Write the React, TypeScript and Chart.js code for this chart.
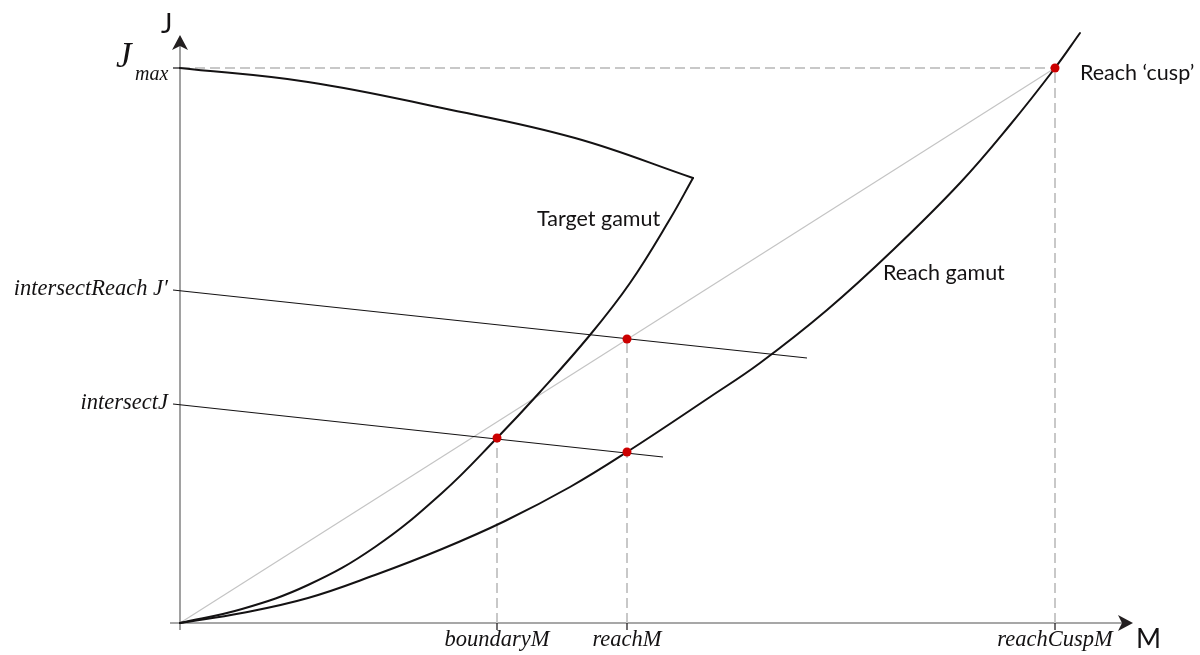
import React, { useEffect, useRef } from "react";
import { Chart, registerables } from "chart.js";

Chart.register(...registerables);

// Target gamut: upper arc from J max out to the corner, lower curve from the origin up to the corner
const targetUpperM = [0, 128, 262, 395, 513];
const targetUpperJ = [555, 541, 515, 485, 445];
const targetLowerM = [0, 62, 128, 195, 262, 317, 360, 410, 450, 490, 513];
const targetLowerJ = [0, 14, 38, 76, 130, 185, 231, 288, 340, 404, 445];

// Reach gamut boundary
const reachM = [0, 62, 128, 195, 262, 325, 390, 447, 530, 580, 647, 713, 780, 830, 875, 900];
const reachJ = [0, 10, 25, 48, 74, 102, 136, 171, 226, 260, 313, 373, 440, 498, 555, 590];

// Projection lines (start just left of the J axis so they form the tick marks)
const projUpperM = [-7, 627];
const projUpperJ = [333, 265];
const projLowerM = [-7, 483];
const projLowerJ = [219, 166];

// Key values
const jMax = 555;
const cuspM = 875;
const boundaryMVal = 317;
const boundaryJVal = 185;
const reachMVal = 447;
const reachLowJ = 171;
const reachHighJ = 284;

// Tick labels
const xTickValues = [boundaryMVal, reachMVal, cuspM];
const xTickLabels = ["boundaryM", "reachM", "reachCuspM"];
const yTickValues = [projUpperJ[0], projLowerJ[0]];
const yTickLabels = ["intersectReach J\u2032", "intersectJ"];

// Axis extents
const axisStartM = -10;
const axisEndM = 953;
const axisStartJ = -7;
const axisEndJ = 588;
const tickLen = 7;

const zip = (xs: number[], ys: number[]) => xs.map((v, i) => ({ x: v, y: ys[i] }));

const INK = "#141213";
const AXIS = "#8a8a8a";
const GUIDE = "#c8c8c8";
const DIAG = "#c4c4c4";
const RED = "#cc0000";

const annotate = {
  id: "annotate",
  afterDatasetsDraw(chart: any) {
    const { ctx, scales } = chart;
    const px = (v: number) => scales.x.getPixelForValue(v);
    const py = (v: number) => scales.y.getPixelForValue(v);
    ctx.save();
    ctx.fillStyle = "#231f20";

    // arrow heads
    const ox = px(0);
    const oy = py(0);
    const ty = py(axisEndJ);
    ctx.beginPath();
    ctx.moveTo(ox, ty);
    ctx.lineTo(ox + 8, ty + 15);
    ctx.lineTo(ox, ty + 11);
    ctx.lineTo(ox - 8, ty + 15);
    ctx.closePath();
    ctx.fill();
    const tx = px(axisEndM);
    ctx.beginPath();
    ctx.moveTo(tx, oy);
    ctx.lineTo(tx - 15, oy - 8);
    ctx.lineTo(tx - 11, oy);
    ctx.lineTo(tx - 15, oy + 8);
    ctx.closePath();
    ctx.fill();

    // axis names
    ctx.fillStyle = INK;
    ctx.font = "27px Lato";
    ctx.textAlign = "left";
    ctx.textBaseline = "alphabetic";
    ctx.fillText("J", ox - 19, ty - 2);
    ctx.fillText("M", tx + 3, oy + 25);

    // J max label
    ctx.font = "italic 35px 'Liberation Serif'";
    ctx.fillText("J", ox - 64, py(jMax) - 1);
    ctx.font = "italic 20px 'Liberation Serif'";
    ctx.fillText("max", ox - 45, py(jMax) + 12);

    // J tick labels
    ctx.font = "italic 22.5px 'Liberation Serif'";
    ctx.textAlign = "right";
    yTickValues.forEach((v, i) => {
      ctx.fillText(yTickLabels[i], ox - 12, py(v) + 5);
    });

    // M tick labels
    ctx.textAlign = "center";
    xTickValues.forEach((v, i) => {
      ctx.fillText(xTickLabels[i], px(v), oy + 23);
    });

    // curve captions
    ctx.font = "21.5px Lato";
    ctx.textAlign = "left";
    ctx.fillText("Target gamut", px(357), py(397));
    ctx.fillText("Reach gamut", px(703), py(343));
    ctx.fillText("Reach \u2018cusp\u2019", px(cuspM) + 25, py(jMax) + 12);
    ctx.restore();
  },
};

export default function App() {
  const ref = useRef<HTMLCanvasElement | null>(null);

  useEffect(() => {
    if (!ref.current) return;
    const line = (data: any[], color: string, width: number, extra: any = {}) => ({
      data,
      showLine: true,
      borderColor: color,
      borderWidth: width,
      pointRadius: 0,
      fill: false,
      ...extra,
    });
    const curve = { tension: 0.4, borderCapStyle: "round" };
    const dash = { borderDash: [10, 5] };

    const chart = new Chart(ref.current, {
      type: "scatter",
      data: {
        datasets: [
          {
            data: [
              { x: boundaryMVal, y: boundaryJVal },
              { x: reachMVal, y: reachLowJ },
              { x: reachMVal, y: reachHighJ },
              { x: cuspM, y: jMax },
            ],
            backgroundColor: RED,
            borderWidth: 0,
            pointRadius: 4.5,
            showLine: false,
            order: 0,
          },
          line(zip(targetUpperM, targetUpperJ), INK, 2, { ...curve, order: 1 }),
          line(zip(targetLowerM, targetLowerJ), INK, 2, { ...curve, order: 1 }),
          line(zip(reachM, reachJ), INK, 2, { ...curve, order: 1 }),
          line(zip(projUpperM, projUpperJ), INK, 1.2, { order: 2 }),
          line(zip(projLowerM, projLowerJ), INK, 1.2, { order: 2 }),
          line([{ x: -tickLen, y: jMax }, { x: 0, y: jMax }], INK, 1.2, { order: 2 }),
          ...xTickValues.map((v) =>
            line([{ x: v, y: 0 }, { x: v, y: -tickLen }], INK, 1.2, { order: 2 })
          ),
          line([{ x: 0, y: 0 }, { x: cuspM, y: jMax }], DIAG, 1.2, { order: 3 }),
          line([{ x: 0, y: jMax }, { x: cuspM, y: jMax }], GUIDE, 2, { ...dash, order: 4 }),
          line([{ x: boundaryMVal, y: 0 }, { x: boundaryMVal, y: boundaryJVal }], GUIDE, 2, { ...dash, order: 4 }),
          line([{ x: reachMVal, y: 0 }, { x: reachMVal, y: reachHighJ }], GUIDE, 2, { ...dash, order: 4 }),
          line([{ x: cuspM, y: 0 }, { x: cuspM, y: jMax }], GUIDE, 2, { ...dash, order: 4 }),
          line([{ x: axisStartM, y: 0 }, { x: axisEndM - 11, y: 0 }], AXIS, 1.6, { order: 5 }),
          line([{ x: 0, y: axisStartJ }, { x: 0, y: axisEndJ - 11 }], AXIS, 1.6, { order: 5 }),
        ],
      },
      options: {
        animation: false,
        responsive: true,
        maintainAspectRatio: false,
        layout: { padding: 0, autoPadding: false },
        plugins: { legend: { display: false }, tooltip: { enabled: false } },
        scales: {
          x: { type: "linear", min: -180, max: 1020, display: false },
          y: { type: "linear", min: -32, max: 623, display: false },
        },
      },
      plugins: [annotate],
    });
    return () => chart.destroy();
  }, []);

  return (
    <div style={{ position: "fixed", left: 0, top: 0, width: 1200, height: 655, background: "#fff" }}>
      <canvas ref={ref} />
    </div>
  );
}
